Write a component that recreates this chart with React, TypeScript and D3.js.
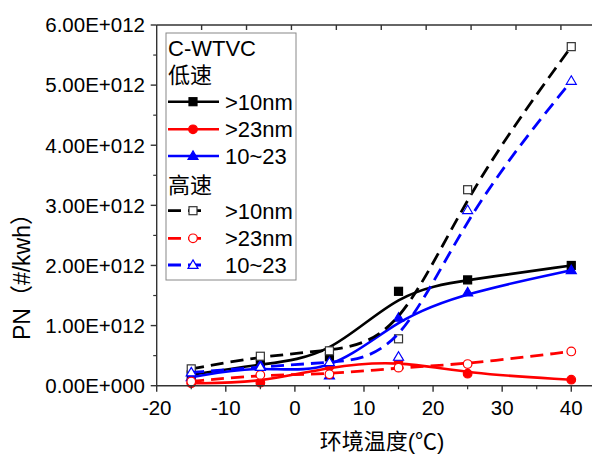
import React from "react";
import * as d3 from "d3";

const temps = [-15, -5, 5, 15, 25, 40];
const low10 = [0.18, 0.36, 0.48, 1.57, 1.76, 2.0];
const low23 = [0.04, 0.05, 0.32, 0.42, 0.2, 0.1];
const low1023 = [0.14, 0.34, 0.17, 1.13, 1.55, 1.92];
const high10 = [0.28, 0.49, 0.58, 0.78, 3.26, 5.64];
const high23 = [0.07, 0.18, 0.19, 0.3, 0.36, 0.57];
const high1023 = [0.22, 0.31, 0.39, 0.48, 2.92, 5.07];

const xTicks = [-20, -10, 0, 10, 20, 30, 40];
const xMinor = [-15, -5, 5, 15, 25, 35];
const topTicks = [-13.5, -7, -0.5, 6, 12.5, 19, 25.5, 32, 38.5];
const yTicks = [0, 1, 2, 3, 4, 5, 6];
const yMinor = [0.5, 1.5, 2.5, 3.5, 4.5, 5.5];

type Series = { label: string; values: number[]; color: string; dashed: boolean; marker: string };
const series: Series[] = [
  { label: ">10nm", values: low10, color: "#000000", dashed: false, marker: "square" },
  { label: ">23nm", values: low23, color: "#ff0000", dashed: false, marker: "circle" },
  { label: "10~23", values: low1023, color: "#0000ff", dashed: false, marker: "triangle" },
  { label: ">10nm", values: high10, color: "#000000", dashed: true, marker: "square" },
  { label: ">23nm", values: high23, color: "#ff0000", dashed: true, marker: "circle" },
  { label: "10~23", values: high1023, color: "#0000ff", dashed: true, marker: "triangle" },
];

const FONT = "'Liberation Sans', Arial, 'Noto Sans CJK SC', sans-serif";
const x = d3.scaleLinear().domain([-20, 43]).range([156.7, 592]);
const y = d3.scaleLinear().domain([0, 6]).range([385.7, 25]);

function Marker({ cx, cy, s }: { cx: number; cy: number; s: Series }) {
  const hollow = s.dashed;
  const fill = hollow ? "#ffffff" : s.color;
  const stroke = hollow && s.color === "#000000" ? "#333333" : s.color;
  if (s.marker === "square") {
    return <rect x={cx - 4} y={cy - 4} width={8} height={8} fill={fill} stroke={stroke} strokeWidth={1.2} />;
  }
  if (s.marker === "circle") {
    return <circle cx={cx} cy={cy} r={4.3} fill={fill} stroke={stroke} strokeWidth={1.2} />;
  }
  const h = 8.5;
  const w = 10;
  return (
    <path
      d={`M${cx},${cy - h * 0.6} L${cx + w / 2},${cy + h * 0.4} L${cx - w / 2},${cy + h * 0.4} Z`}
      fill={fill}
      stroke={stroke}
      strokeWidth={1.2}
    />
  );
}

export default function App() {
  const line = d3
    .line<[number, number]>()
    .x((d) => x(d[0]))
    .y((d) => y(d[1]))
    .curve(d3.curveBasis);

  const axisColor = "#333333";
  const legendRows = [
    { y: 101.7, s: series[0] },
    { y: 129.3, s: series[1] },
    { y: 156, s: series[2] },
    { y: 210.7, s: series[3] },
    { y: 238.3, s: series[4] },
    { y: 265, s: series[5] },
  ];

  return (
    <svg width={594} height={456} style={{ position: "absolute", left: 0, top: 0, background: "#fff" }} fontFamily={FONT}>
      <rect width={594} height={456} fill="#ffffff" />
      {series.map((s, i) => (
        <g key={i}>
          <path
            d={line(temps.map((t, j) => [t, s.values[j]] as [number, number])) || ""}
            fill="none"
            stroke={s.color}
            strokeWidth={s.dashed ? 2.8 : 2.6}
            strokeDasharray={s.dashed ? "13,7" : undefined}
          />
          {temps.map((t, j) => (
            <Marker key={j} cx={x(t)} cy={y(s.values[j])} s={s} />
          ))}
        </g>
      ))}

      <line x1={x(-20)} x2={592} y1={y(0)} y2={y(0)} stroke={axisColor} strokeWidth={1.4} />
      <line x1={x(-20)} x2={592} y1={y(6)} y2={y(6)} stroke={axisColor} strokeWidth={1.4} />
      <line x1={x(-20)} x2={x(-20)} y1={y(0)} y2={y(6)} stroke={axisColor} strokeWidth={1.4} />
      {xTicks.map((t) => (
        <g key={"xt" + t}>
          <line x1={x(t)} x2={x(t)} y1={y(0)} y2={y(0) + 6} stroke={axisColor} strokeWidth={1.4} />
          <text x={x(t)} y={415} fontSize={20.5} textAnchor="middle" fill="#000">
            {t}
          </text>
        </g>
      ))}
      {xMinor.map((t) => (
        <line key={"xm" + t} x1={x(t)} x2={x(t)} y1={y(0)} y2={y(0) + 3.5} stroke={axisColor} strokeWidth={1.2} />
      ))}
      {topTicks.map((t) => (
        <line key={"tt" + t} x1={x(t)} x2={x(t)} y1={y(6)} y2={y(6) + 5} stroke={axisColor} strokeWidth={1.4} />
      ))}
      {yTicks.map((t) => (
        <g key={"yt" + t}>
          <line x1={x(-20) - 6} x2={x(-20)} y1={y(t)} y2={y(t)} stroke={axisColor} strokeWidth={1.4} />
          <text x={145} y={y(t)} dy="0.36em" fontSize={20.5} textAnchor="end" fill="#000">
            {t === 0 ? "0.00E+000" : t.toFixed(2) + "E+012"}
          </text>
        </g>
      ))}
      {yMinor.map((t) => (
        <line key={"ym" + t} x1={x(-20) - 3.5} x2={x(-20)} y1={y(t)} y2={y(t)} stroke={axisColor} strokeWidth={1.2} />
      ))}

      <text x={382} y={449} fontSize={22} textAnchor="middle" fill="#000">
        环境温度(℃)
      </text>
      <text transform={`translate(22,271) rotate(-90)`} fontSize={23} textAnchor="middle" dy="0.36em" fill="#000">
        PN（#/kwh）
      </text>

      <rect x={166} y={33} width={130} height={247} fill="#ffffff" stroke="#888888" strokeWidth={1} />
      <text x={168} y={48} dy="0.36em" fontSize={22} fill="#000">
        C-WTVC
      </text>
      <text x={168} y={75} dy="0.36em" fontSize={22} fill="#000">
        低速
      </text>
      <text x={168} y={185} dy="0.36em" fontSize={22} fill="#000">
        高速
      </text>
      {legendRows.map((r, i) => (
        <g key={"lg" + i}>
          <line
            x1={168}
            x2={r.s.dashed ? 207 : 219}
            y1={r.y}
            y2={r.y}
            stroke={r.s.color}
            strokeWidth={r.s.dashed ? 2.8 : 2.6}
            strokeDasharray={r.s.dashed ? "13,7" : undefined}
          />
          <Marker cx={193} cy={r.y} s={r.s} />
          <text x={225} y={r.y} dy="0.36em" fontSize={22} fill="#000">
            {r.s.label}
          </text>
        </g>
      ))}
    </svg>
  );
}
